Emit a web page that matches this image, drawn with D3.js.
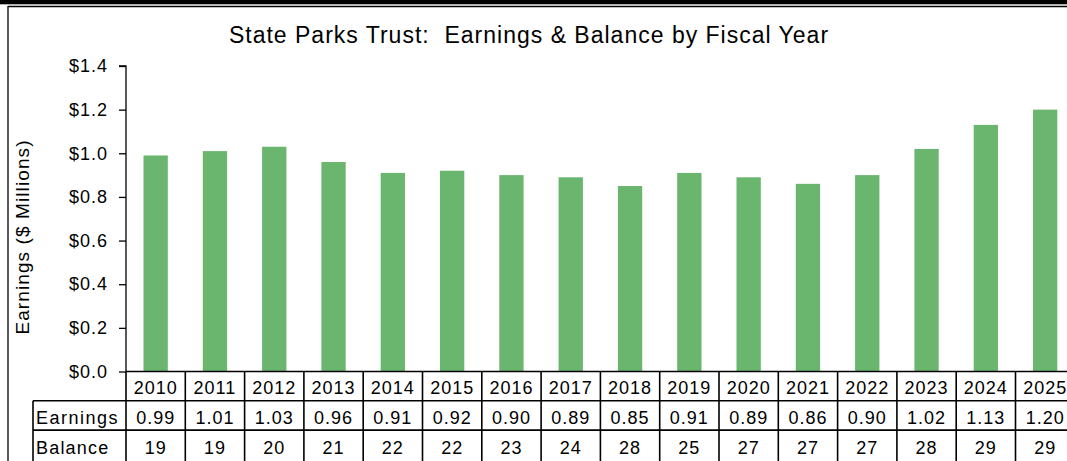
<!DOCTYPE html>
<html>
<head>
<meta charset="utf-8">
<script src="https://cdn.jsdelivr.net/npm/d3@7"></script>
<style>
  body { margin: 0; background: #fff; }
  svg { display: block; font-family: "Liberation Sans", Arial, sans-serif; }
</style>
</head>
<body>
<div id="chart"></div>
<script>
var years = ['2010','2011','2012','2013','2014','2015','2016','2017','2018','2019','2020','2021','2022','2023','2024','2025'];
var earnings = [0.99, 1.01, 1.03, 0.96, 0.91, 0.92, 0.90, 0.89, 0.85, 0.91, 0.89, 0.86, 0.90, 1.02, 1.13, 1.20];
var balance = [19, 19, 20, 21, 22, 22, 23, 24, 28, 25, 27, 27, 27, 28, 29, 29];
var yTicks = [0, 0.2, 0.4, 0.6, 0.8, 1.0, 1.2, 1.4];
var rowLabels = ['Earnings', 'Balance'];

var width = 1067, height = 461;
var plotLeft = 126, colW = 59.3,
    plotRight = plotLeft + years.length * colW,
    plotTop = 66, plotBottom = 371.5,
    rowH = 29.3;

var svg = d3.select('#chart').append('svg')
  .attr('width', width)
  .attr('height', height);

// frame lines
svg.append('rect').attr('x', 0).attr('y', 0).attr('width', width).attr('height', 4.3).attr('fill', '#000');
svg.append('line').attr('x1', 8).attr('x2', width).attr('y1', 6.5).attr('y2', 6.5)
  .attr('stroke', '#000').attr('stroke-width', 1.3);
svg.append('line').attr('x1', 8).attr('x2', 8).attr('y1', 6).attr('y2', height)
  .attr('stroke', '#000').attr('stroke-width', 1.3);

var x = d3.scaleBand().domain(years).range([plotLeft, plotRight]).paddingInner(0.59).paddingOuter(0.295);
var xCol = d3.scaleBand().domain(years).range([plotLeft, plotRight]);
var y = d3.scaleLinear().domain([0, 1.4]).range([plotBottom, plotTop]);

svg.append('text')
  .attr('x', 529).attr('y', 43)
  .attr('text-anchor', 'middle')
  .style('font-size', '23px')
  .style('letter-spacing', '1px')
  .style('white-space', 'pre')
  .text('State Parks Trust:  Earnings & Balance by Fiscal Year');

svg.append('text')
  .attr('transform', 'translate(29,237) rotate(-90)')
  .attr('text-anchor', 'middle')
  .style('font-size', '19px')
  .style('letter-spacing', '1.1px')
  .style('white-space', 'pre')
  .text('Earnings ($ Millions)');

var yAxis = d3.axisLeft(y)
  .tickValues(yTicks)
  .tickSize(7)
  .tickPadding(11)
  .tickFormat(function(d) { return '$' + d3.format('.1f')(d); });

var gy = svg.append('g')
  .attr('transform', 'translate(' + plotLeft + ',0)')
  .call(yAxis);
gy.select('.domain').attr('stroke', '#000').attr('stroke-width', 1.3).attr('d', 'M-7,' + plotTop + 'H0V' + plotBottom);
gy.selectAll('.tick line').attr('stroke', '#000').attr('stroke-width', 1.3);
gy.selectAll('.tick text')
  .attr('fill', '#000')
  .style('font-size', '18px')
  .style('font-family', '"Liberation Sans", Arial, sans-serif')
  .style('letter-spacing', '1px');

svg.selectAll('rect.bar')
  .data(earnings)
  .enter().append('rect')
  .attr('class', 'bar')
  .attr('x', function(d, i) { return x(years[i]); })
  .attr('width', x.bandwidth())
  .attr('y', function(d) { return y(d); })
  .attr('height', function(d) { return plotBottom - y(d); })
  .attr('fill', '#6bb66e');

// data table
var table = svg.append('g');
var tStroke = 1.6;
var r0 = plotBottom, r1 = r0 + rowH, r2 = r1 + rowH;

table.append('line').attr('x1', plotLeft).attr('x2', width).attr('y1', r0).attr('y2', r0)
  .attr('stroke', '#000').attr('stroke-width', tStroke);
[r1, r2].forEach(function(ry) {
  table.append('line').attr('x1', 33).attr('x2', width).attr('y1', ry).attr('y2', ry)
    .attr('stroke', '#000').attr('stroke-width', tStroke);
});
table.append('line').attr('x1', 33).attr('x2', 33).attr('y1', r1).attr('y2', height)
  .attr('stroke', '#000').attr('stroke-width', tStroke);
years.forEach(function(yr) {
  var cx = xCol(yr);
  table.append('line').attr('x1', cx).attr('x2', cx).attr('y1', r0).attr('y2', height)
    .attr('stroke', '#000').attr('stroke-width', tStroke);
});

function cellText(txt, cx, cy, anchor, ls) {
  table.append('text')
    .attr('x', cx).attr('y', cy)
    .attr('text-anchor', anchor || 'middle')
    .style('font-size', '18px')
    .style('letter-spacing', ls || '1px')
    .text(txt);
}

years.forEach(function(yr, i) {
  var cx = xCol(yr) + xCol.bandwidth() / 2;
  cellText(yr, cx, r0 + 22.5);
  cellText(earnings[i].toFixed(2), cx, r1 + 23);
  cellText(String(balance[i]), cx, r2 + 23.5);
});
cellText(rowLabels[0], 36, r1 + 23, 'start', '1.5px');
cellText(rowLabels[1], 36, r2 + 23.5, 'start', '1.2px');
</script>
</body>
</html>
